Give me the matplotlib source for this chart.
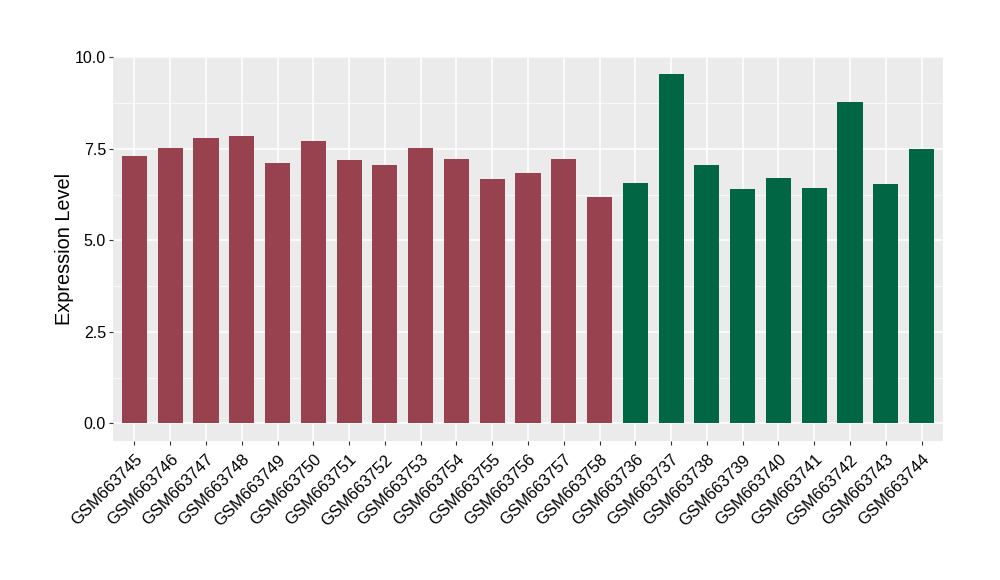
import numpy as np
import matplotlib
matplotlib.use("Agg")
import matplotlib.pyplot as plt

samples = ["GSM663745", "GSM663746", "GSM663747", "GSM663748", "GSM663749",
           "GSM663750", "GSM663751", "GSM663752", "GSM663753", "GSM663754",
           "GSM663755", "GSM663756", "GSM663757", "GSM663758",
           "GSM663736", "GSM663737", "GSM663738", "GSM663739", "GSM663740",
           "GSM663741", "GSM663742", "GSM663743", "GSM663744"]
values = [7.30, 7.52, 7.80, 7.85, 7.11, 7.71, 7.19, 7.06, 7.52, 7.22,
          6.68, 6.84, 7.22, 6.18,
          6.57, 9.54, 7.06, 6.40, 6.70, 6.43, 8.78, 6.54, 7.49]
groups = ["a"] * 14 + ["b"] * 9
group_colors = {"a": "#99424F", "b": "#006644"}

plt.rcParams['font.family'] = ['Liberation Sans', 'DejaVu Sans']

fig = plt.figure(figsize=(10, 5.8), dpi=100)
ax = fig.add_axes([0.113, 0.240, 0.830, 0.662])

x = np.arange(1, len(samples) + 1)
ax.bar(x, values, width=0.7, color=[group_colors[g] for g in groups], zorder=3)

ymax = max(values)
ax.set_ylim(-0.05 * ymax, 1.05 * ymax)
ax.set_xlim(0.4, len(samples) + 0.6)

ax.set_facecolor("#EBEBEB")
ax.set_yticks([0, 2.5, 5, 7.5, 10])
ax.set_yticklabels(["0.0", "2.5", "5.0", "7.5", "10.0"])
ax.set_yticks([1.25, 3.75, 6.25, 8.75], minor=True)
ax.set_xticks(x)
ax.set_xticklabels(samples, rotation=45, ha="right", va="top",
                   rotation_mode="anchor", fontsize=12)
ax.grid(which="major", color="white", linewidth=1.1, zorder=0)
ax.grid(which="minor", axis="y", color="white", linewidth=0.5, zorder=0)
ax.tick_params(axis="both", which="major", length=3, color="#333333",
               labelcolor="black", width=0.8)
ax.tick_params(axis="y", labelsize=11.5, pad=2)
ax.tick_params(axis="x", pad=5)
ax.tick_params(which="minor", length=0)
for s in ax.spines.values():
    s.set_visible(False)

ax.set_ylabel("Expression Level", fontsize=14.3)
ax.yaxis.set_label_coords(-0.047, 0.5)

fig.savefig("out.png")
